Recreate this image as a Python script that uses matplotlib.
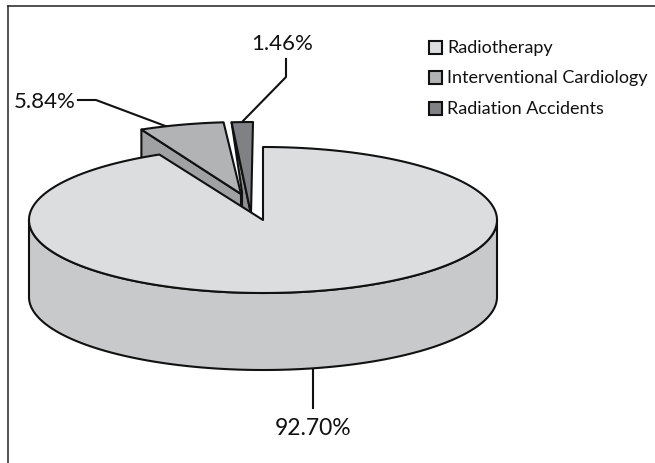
import numpy as np
import matplotlib
matplotlib.use('Agg')
import matplotlib.pyplot as plt
from matplotlib.patches import Polygon, Rectangle

plt.rcParams['font.family'] = ['Lato', 'DejaVu Sans']

labels = ['Radiotherapy', 'Interventional Cardiology', 'Radiation Accidents']
shares = [92.70, 5.84, 1.46]
pct_labels = ['92.70%', '5.84%', '1.46%']

top_colors = ['#dcddde', '#b2b3b5', '#808184']
wall_colors = ['#c8c9cb', '#a0a1a3', '#8e8f92']

# pie geometry in pixels
cx, cy = 263, 221
rx, ry = 234, 73
depth = 77
lw = 1.5
edge = '#111111'


def arc(a0, a1, dx=0, dy=0, n=200):
    t = np.radians(np.linspace(a0, a1, n))
    return np.column_stack([cx + dx + rx * np.cos(t), cy + dy - ry * np.sin(t)])


fig = plt.figure(figsize=(6.55, 4.64), dpi=100)
ax = fig.add_axes([0, 0, 1, 1])
ax.set_xlim(0, 655)
ax.set_ylim(464, 0)
ax.axis('off')

# slice angles, clockwise from 12 o'clock
ends = 90 - 360 * np.cumsum(shares) / 100.0
starts = np.r_[90, ends[:-1]]

# radiation accidents, pulled out (back)
a = arc(starts[2], ends[2], -10, -25)
apex = np.array([251, 215])
wall = np.array([a[0], [242, 193], [242, 210], apex])
ax.add_patch(Polygon(wall, fc=wall_colors[2], ec=edge, lw=lw, joinstyle='round', zorder=1))
ax.add_patch(Polygon(np.vstack([a, apex]), fc=top_colors[2], ec=edge, lw=lw, joinstyle='round', zorder=2))

# interventional cardiology, pulled out
a = arc(starts[1], ends[1], -18, -25)
apex = np.array([241, 195])
wall = np.array([a[0], apex, apex + [0, depth], a[0] + [0, depth]])
ax.add_patch(Polygon(wall, fc=wall_colors[1], ec=edge, lw=lw, joinstyle='round', zorder=3))
ax.add_patch(Polygon(np.vstack([a, apex]), fc=top_colors[1], ec=edge, lw=lw, joinstyle='round', zorder=4))

# radiotherapy
low = arc(0, -180)
wall = np.vstack([low, low[::-1] + [0, depth]])
ax.add_patch(Polygon(wall, fc=wall_colors[0], ec=edge, lw=lw, joinstyle='round', zorder=5))
a = arc(starts[0], ends[0], n=600)
ax.add_patch(Polygon(np.vstack([a, [cx, cy]]), fc=top_colors[0], ec=edge, lw=lw, joinstyle='round', zorder=6))

# leader lines
ax.plot([313, 313], [370, 409], color=edge, lw=lw, zorder=7)
ax.plot([78, 96, 168], [101, 101, 128], color=edge, lw=lw, zorder=3.5)
ax.plot([286, 286, 243], [60, 78, 122], color=edge, lw=lw, zorder=3.5)

ax.text(313, 429, pct_labels[0], fontsize=16.5, ha='center', va='center', color='#111111')
ax.text(45, 102, pct_labels[1], fontsize=16, ha='center', va='center', color='#111111')
ax.text(282, 44, pct_labels[2], fontsize=16, ha='center', va='center', color='#111111')

# legend
for lab, col, y in zip(labels, top_colors, [48, 78, 109]):
    ax.add_patch(Rectangle((429, y - 6.5), 12.5, 13, fc=col, ec=edge, lw=lw))
    ax.text(447, y, lab, fontsize=13, ha='left', va='center', color='#111111')

# frame, top and left only
ax.plot([8, 8], [464, 6.5], color='#222222', lw=1.1)
ax.plot([8, 655], [6.5, 6.5], color='#222222', lw=1.1)

fig.savefig('out.png', dpi=100)
